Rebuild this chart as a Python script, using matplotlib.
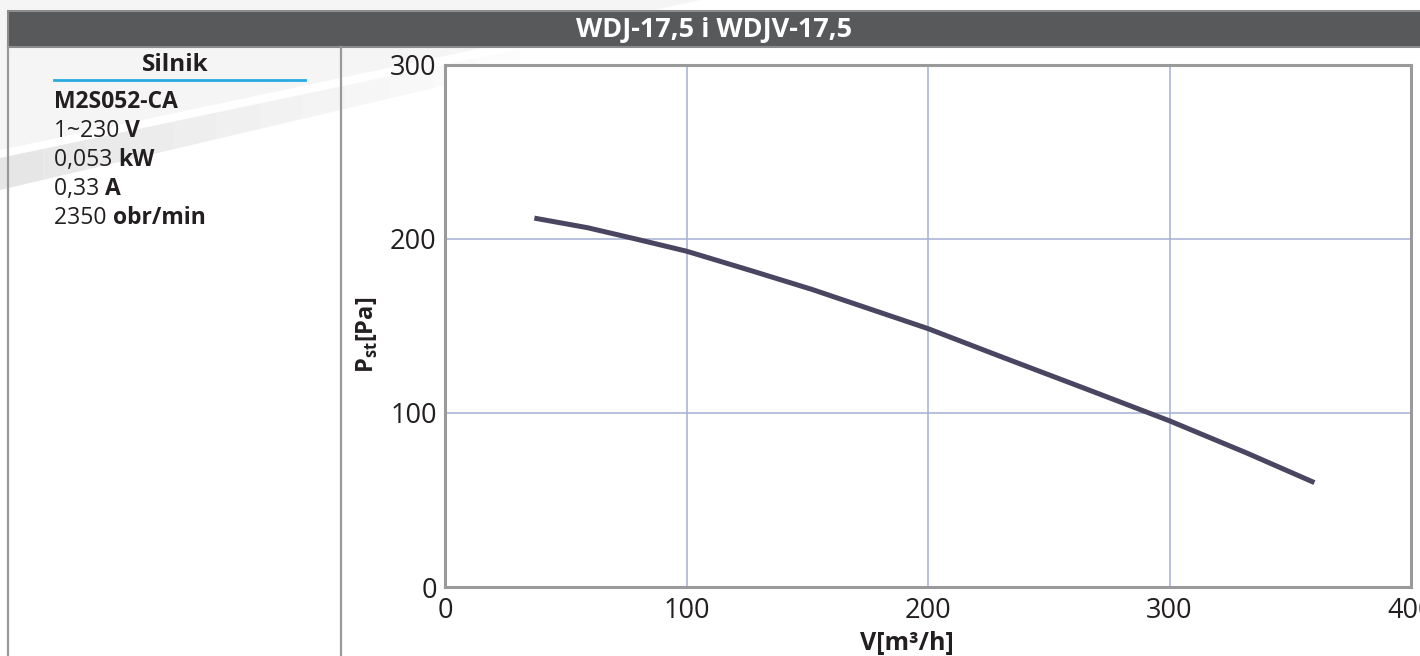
import numpy as np
import matplotlib.pyplot as plt
from matplotlib.patches import Rectangle, Polygon

plt.rcParams['font.family'] = ['Open Sans', 'DejaVu Sans']

# curve data
flow = [37, 59, 79, 100, 127.5, 152, 200, 230, 268, 300, 332, 360]
pressure = [212, 206.5, 200, 193, 181.5, 171, 148.5, 132.5, 112.5, 95.5, 77, 60]

x_ticks = [0, 100, 200, 300, 400]
y_ticks = [0, 100, 200, 300]

title = "WDJ-17,5 i WDJV-17,5"
motor_name = "M2S052-CA"
motor_specs = [("1~230", "V"), ("0,053", "kW"), ("0,33", "A"), ("2350", "obr/min")]

W, H = 1420, 656
fig = plt.figure(figsize=(W / 100, H / 100), dpi=100)

# background / frame drawn in pixel coordinates
bg = fig.add_axes([0, 0, 1, 1])
bg.set_xlim(0, W)
bg.set_ylim(H, 0)
bg.axis('off')

# faint swoosh in the background, fading to the right
bg.add_patch(Polygon([[0, 0], [0, 150], [520, 40], [700, 0]],
                     closed=True, color='#f5f5f5', lw=0, zorder=0))
steps = 12
for i in range(steps):
    x0 = i * 520 / steps
    x1 = (i + 1) * 520 / steps
    lo = lambda x: 190 - 0.235 * x
    hi = lambda x: 158 - 0.21 * x
    a = 1 - i / steps
    bg.add_patch(Polygon([[x0, hi(x0)], [x0, lo(x0)], [x1, lo(x1)], [x1, hi(x1)]],
                         closed=True, color='#e6e6e6', alpha=a, lw=0, zorder=0))

# header bar
bg.add_patch(Rectangle((8, 11), W, 36, facecolor='#58595b',
                       edgecolor='#8c8c8c', linewidth=1.5, zorder=2))
bg.text(714, 30, title, color='white', fontsize=19.5, fontweight='bold',
        ha='center', va='center', zorder=3)

# table lines
bg.plot([8, 8], [47, H], color='#999999', lw=1.6, zorder=2)
bg.plot([341, 341], [47, H], color='#999999', lw=1.6, zorder=2)

# motor info
bg.text(175, 65, "Silnik", fontsize=17.5, fontweight='bold', color='#231f20',
        ha='center', va='center')
bg.plot([54, 305], [80, 80], color='#29abe2', lw=2)
bg.text(54, 102, motor_name, fontsize=16.5, fontweight='bold', color='#231f20',
        va='center')
for i, (val, unit) in enumerate(motor_specs):
    t = bg.text(54, 131 + 29 * i, val + " ", fontsize=16.5, color='#231f20',
                va='center')
    bg.annotate(unit, xy=(1, 0), xycoords=t, fontsize=16.5, fontweight='bold',
                color='#231f20', va='bottom', ha='left')

# chart
ax = fig.add_axes([445 / W, 1 - 587 / H, (1411 - 445) / W, (587 - 65) / H])
ax.set_facecolor('white')
ax.plot(flow, pressure, color='#4a4560', lw=3.6, solid_capstyle='butt', zorder=3)
ax.set_xlim(0, 400)
ax.set_ylim(0, 300)
ax.set_xticks(x_ticks)
ax.set_yticks(y_ticks)
ax.grid(True, color='#a3b0d2', lw=1.1)
ax.set_axisbelow(True)
for s in ax.spines.values():
    s.set_color('#9a9a9a')
    s.set_linewidth(2.2)
ax.tick_params(length=0, labelsize=19.5, colors='#231f20')
ax.tick_params(axis='x', pad=7)
ax.tick_params(axis='y', pad=6)

fig.text(907 / W, 1 - 643 / H, "V[m³/h]", fontsize=18, fontweight='bold',
         color='#231f20', ha='center', va='center')
fig.text(367 / W, 1 - 335 / H, r"P$_{\mathregular{st}}$[Pa]", fontsize=17,
         fontweight='bold', color='#231f20', ha='center', va='center',
         rotation=90)

fig.savefig('out.png', dpi=100)
